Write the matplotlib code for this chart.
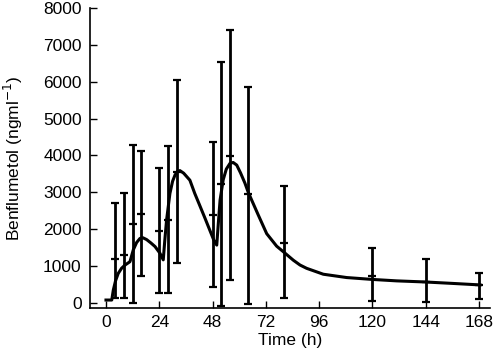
import matplotlib
matplotlib.use("Agg")
import matplotlib.pyplot as plt

# observed means with lower / upper ends of the bars
time_h = [4, 8, 12, 16, 24, 28, 32, 48, 52, 56, 64, 80, 120, 144, 168]
mean = [1190, 1300, 2140, 2420, 1950, 2240, 3540, 2380, 3230, 3990, 2960, 1630, 740, 580, 480]
lower = [135, 135, 0, 730, 270, 270, 1080, 420, -80, 620, -30, 140, 60, 20, 100]
upper = [2700, 2970, 4290, 4110, 3660, 4250, 6050, 4360, 6540, 7410, 5870, 3160, 1480, 1190, 820]

# fitted curve
curve_t = [0, 2.6, 3.3, 4.3, 5.5, 7, 8.6, 10.8, 12.3, 13.8, 15.3, 16.6, 18.3, 20.2, 22.1,
           24.3, 25.8, 26.5, 27.3, 28.8, 30, 31.1, 32.2, 33.3, 35, 37.8, 40, 42,
           44.6, 46.8, 48.6, 49.9, 50.6, 51.4, 52.8, 54.2, 55.9, 57.3, 58.9, 60.6,
           62.6, 64.1, 66.3, 68.5, 72.4, 76.9, 79.9, 84.4, 87.4, 90.4, 97.9, 108.4,
           119.7, 130.9, 143.7, 156.4, 168.5]
curve_c = [80, 80, 350, 600, 800, 940, 1030, 1120, 1440, 1640, 1750, 1770, 1720, 1630, 1530,
           1350, 1170, 1700, 2250, 2970, 3300, 3470, 3570, 3590, 3520, 3330, 2970, 2680,
           2300, 1970, 1700, 1570, 2150, 2790, 3340, 3630, 3790, 3810, 3740, 3530,
           3250, 3000, 2700, 2400, 1880, 1540, 1390, 1160, 1030, 940, 780, 690,
           640, 600, 570, 530, 490]

plt.rcParams["font.family"] = ["Liberation Sans", "DejaVu Sans"]
plt.rcParams["font.size"] = 12.5

fig = plt.figure(figsize=(4.93, 3.62), dpi=100)
ax = fig.add_axes([90 / 493, (362 - 308) / 362, 400 / 493, 300 / 362])

ax.plot(curve_t, curve_c, color="black", lw=2.2, solid_joinstyle="round")

yerr = [[m - lo for m, lo in zip(mean, lower)], [hi - m for m, hi in zip(mean, upper)]]
ax.errorbar(time_h, mean, yerr=yerr, fmt="_", color="black", ms=5.5, mew=1.6,
            elinewidth=2.0, capsize=2.8, capthick=1.6)

ax.set_xlim(-7.2, 173)
ax.set_ylim(-136, 8000)
ax.set_xticks([0, 24, 48, 72, 96, 120, 144, 168])
ax.set_yticks(range(0, 8001, 1000))
ax.tick_params(direction="in", length=5, width=1.0, pad=6)
ax.tick_params(axis="x", pad=5)
ax.spines["top"].set_visible(False)
ax.spines["right"].set_visible(False)
ax.spines["left"].set_linewidth(1.2)
ax.spines["bottom"].set_linewidth(1.2)
ax.set_xlabel("Time (h)", labelpad=2)
ax.set_ylabel(r"Benflumetol (ngml$^{-1}$)", labelpad=13)

fig.savefig("out.png", dpi=100)
